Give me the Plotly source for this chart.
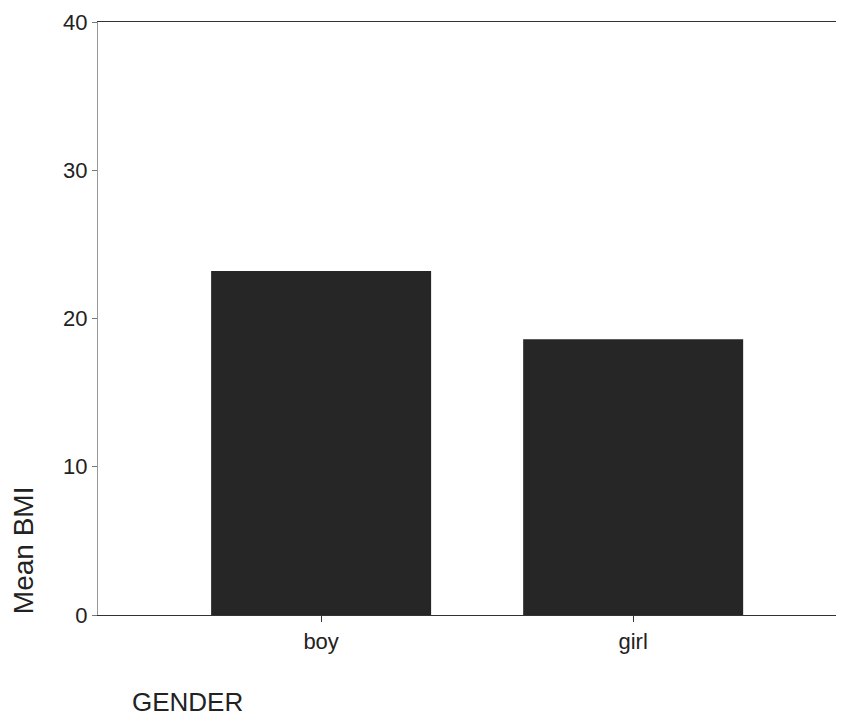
import plotly.graph_objects as go

categories = ["boy", "girl"]
mean_bmi = [23.2, 18.6]
y_ticks = [0, 10, 20, 30, 40]

fig = go.Figure()
fig.add_trace(go.Bar(
    x=categories,
    y=mean_bmi,
    width=0.705,
    marker=dict(color="#262626", line=dict(width=0)),
    showlegend=False,
))

fig.update_layout(
    width=828, height=725,
    margin=dict(l=90, r=0, t=14, b=117.5),
    paper_bgcolor="white",
    plot_bgcolor="white",
    font=dict(family="Liberation Sans, Arial, sans-serif", color="#222222", size=21),
    xaxis=dict(
        type="category",
        range=[-0.715, 1.65],
        showline=True, linecolor="#333333", linewidth=1.3, mirror=True,
        ticks="outside", ticklen=6, tickcolor="#333333",
        showgrid=False, zeroline=False,
        tickfont=dict(size=22),
    ),
    yaxis=dict(
        range=[0, 40],
        tickvals=y_ticks,
        showline=True, linecolor="#999999", linewidth=1,
        ticks="outside", ticklen=5, tickcolor="#777777",
        showgrid=False, zeroline=False,
        tickfont=dict(size=22),
    ),
    annotations=[
        dict(text="GENDER", xref="paper", yref="paper", x=0.043, y=-0.146,
             xanchor="left", yanchor="middle", showarrow=False,
             font=dict(size=26, color="#222222")),
        dict(text="Mean BMI", xref="paper", yref="paper", x=-0.1005, y=0.109,
             xanchor="center", yanchor="middle", textangle=-90, showarrow=False,
             font=dict(size=28, color="#222222")),
    ],
)

fig.write_html("out.html")
